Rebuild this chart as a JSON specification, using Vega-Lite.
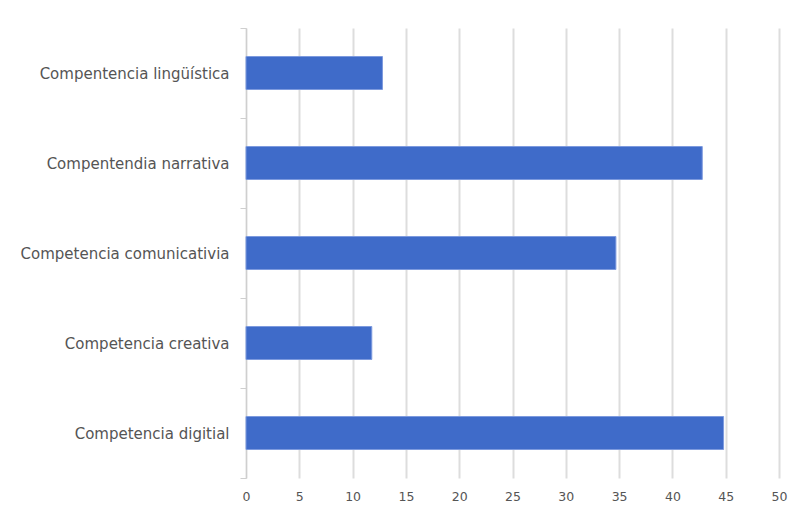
{
  "$schema": "https://vega.github.io/schema/vega-lite/v6.json",
  "width": 533,
  "height": 450,
  "autosize": {"type": "none"},
  "padding": {"left": 246, "top": 28, "right": 18, "bottom": 32},
  "background": "white",
  "data": {
    "values": [
      {"competencia": "Compentencia lingüística", "valor": 12.8},
      {"competencia": "Compentendia narrativa", "valor": 42.8},
      {"competencia": "Competencia comunicativia", "valor": 34.7},
      {"competencia": "Competencia creativa ", "valor": 11.8},
      {"competencia": "Competencia digitial", "valor": 44.8}
    ]
  },
  "mark": {"type": "bar", "color": "#3f6bc9", "stroke": "#7d9ade", "strokeWidth": 1, "height": 33},
  "encoding": {
    "y": {
      "field": "competencia",
      "type": "nominal",
      "sort": null,
      "scale": {"paddingInner": 0, "paddingOuter": 0},
      "axis": {
        "title": null,
        "labelFont": "DejaVu Sans",
        "labelFontSize": 15,
        "labelColor": "#555555",
        "labelPadding": 11,
        "labelLimit": 400,
        "domain": true,
        "domainColor": "#cfcfcf",
        "domainWidth": 1,
        "ticks": true,
        "tickBand": "extent",
        "tickColor": "#cfcfcf",
        "tickSize": 6,
        "grid": false
      }
    },
    "x": {
      "field": "valor",
      "type": "quantitative",
      "scale": {"domain": [0, 50], "nice": false},
      "axis": {
        "title": null,
        "values": [0, 5, 10, 15, 20, 25, 30, 35, 40, 45, 50],
        "labelFont": "DejaVu Sans",
        "labelFontSize": 12.5,
        "labelColor": "#555555",
        "labelPadding": 12,
        "labelFlush": false,
        "domain": false,
        "ticks": false,
        "grid": true,
        "gridColor": "#dddddd",
        "gridWidth": 2
      }
    }
  },
  "config": {
    "view": {"stroke": null}
  }
}
